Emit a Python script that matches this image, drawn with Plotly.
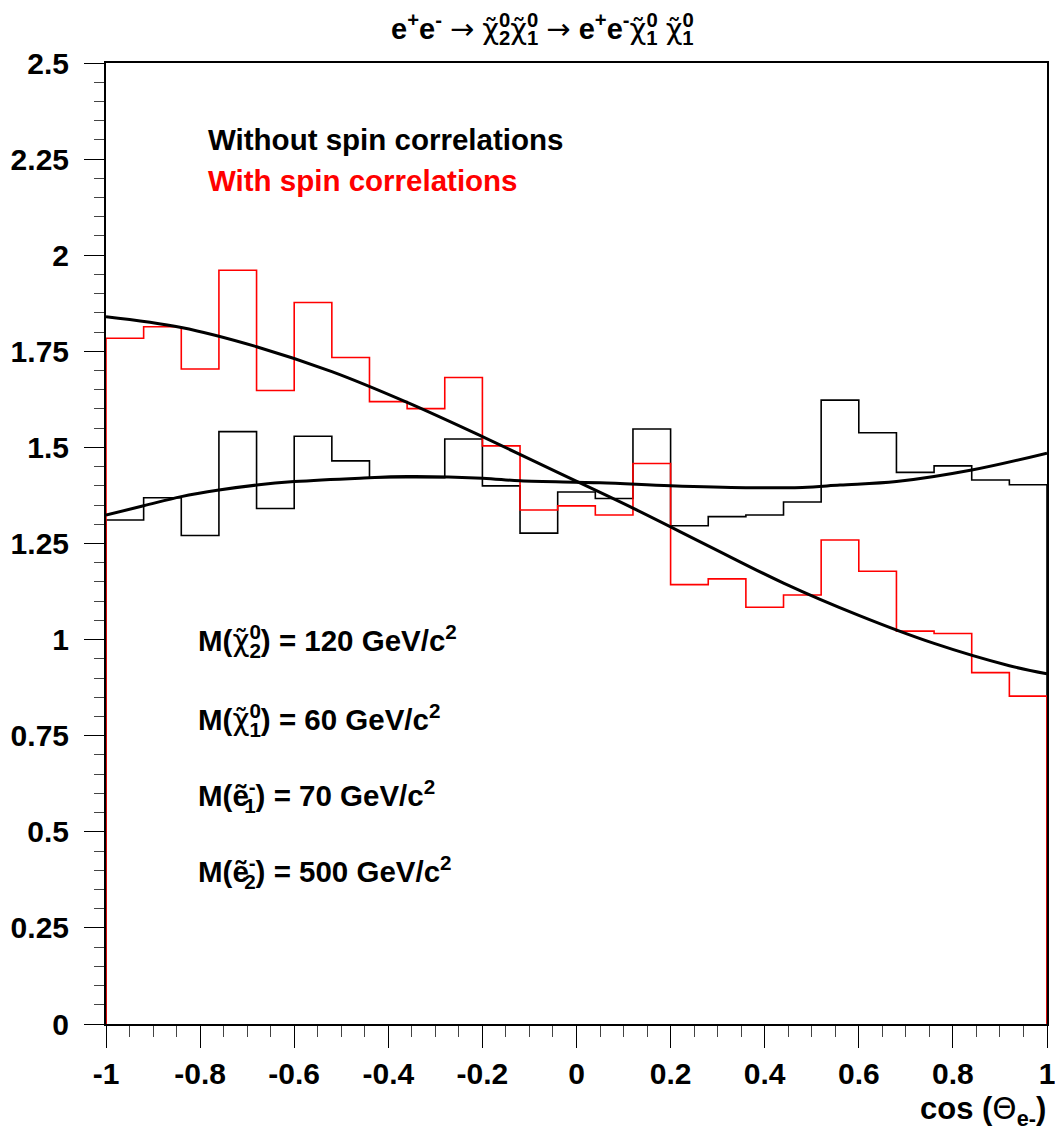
import numpy as np
import plotly.graph_objects as go

# ---- binning of cos(theta_e-) ----
N_BINS = 25
X_MIN, X_MAX = -1.0, 1.0

# ---- histogram contents (normalised) ----
without_spin = [1.311, 1.369, 1.271, 1.541, 1.341, 1.529, 1.465, 1.421, 1.421, 1.522,
                1.400, 1.277, 1.384, 1.367, 1.548, 1.296, 1.320, 1.324, 1.358, 1.623,
                1.538, 1.435, 1.452, 1.415, 1.403]
with_spin = [1.784, 1.814, 1.704, 1.961, 1.648, 1.877, 1.734, 1.619, 1.601, 1.682,
             1.504, 1.337, 1.348, 1.324, 1.458, 1.143, 1.158, 1.084, 1.116, 1.259,
             1.178, 1.022, 1.016, 0.914, 0.853]

# ---- fitted curves, sampled ----
fit_without_x = [-1.0, -0.92, -0.84, -0.76, -0.68, -0.6, -0.46, -0.36, -0.2, -0.12,
                 0.05, 0.2, 0.36, 0.48, 0.56, 0.68, 0.84, 1.0]
fit_without_y = [1.324, 1.348, 1.372, 1.389, 1.402, 1.411, 1.420, 1.424, 1.420, 1.413,
                 1.408, 1.400, 1.395, 1.396, 1.402, 1.411, 1.441, 1.485]
fit_with_x = [-1.0, -0.84, -0.68, -0.52, -0.36, -0.2, -0.04, 0.12, 0.28, 0.44,
              0.6, 0.76, 0.92, 1.0]
fit_with_y = [1.840, 1.812, 1.762, 1.697, 1.617, 1.528, 1.435, 1.342, 1.244, 1.147,
              1.063, 0.990, 0.932, 0.911]

# ---- axis ticks ----
x_tick_vals = [-1, -0.8, -0.6, -0.4, -0.2, 0, 0.2, 0.4, 0.6, 0.8, 1]
x_tick_text = ["-1", "-0.8", "-0.6", "-0.4", "-0.2", "0", "0.2", "0.4", "0.6", "0.8", "1"]
y_tick_vals = [0, 0.25, 0.5, 0.75, 1, 1.25, 1.5, 1.75, 2, 2.25, 2.5]
y_tick_text = ["0", "0.25", "0.5", "0.75", "1", "1.25", "1.5", "1.75", "2", "2.25", "2.5"]

edges = np.linspace(X_MIN, X_MAX, N_BINS + 1)


def outline(values):
    """Step outline of a histogram, closed down to zero at both ends."""
    xs = [edges[0]] + list(edges[:-1]) + [edges[-1], edges[-1]]
    ys = [0.0] + list(values) + [values[-1], 0.0]
    return xs, ys


W, H = 1055, 1133
ML, MR, MT, MB = 106, 8, 63, 109
PW, PH = W - ML - MR, H - MT - MB


def paper(px, py):
    return (px - ML) / PW, (H - MB - py) / PH


FONT = "Liberation Sans, Arial, sans-serif"
SYM = "font-family:DejaVu Sans;font-weight:normal"


def sym(ch):
    return f'<span style="{SYM}">{ch}</span>'


def stacked(base, sup, sub):
    """Symbol with super- and subscript placed one above the other."""
    return (base + f'<sup><span style="letter-spacing:-0.56em">{sup}</span></sup>'
            + f"<sub>{sub}</sub>")


CHI = sym("\u03c7\u0303")
ARROW = sym("\u2192")

fig = go.Figure()

xb, yb = outline(without_spin)
fig.add_trace(go.Scatter(x=xb, y=yb, mode="lines", line=dict(color="black", width=1.6, shape="hv"),
                         showlegend=False, hoverinfo="skip"))
xr, yr = outline(with_spin)
fig.add_trace(go.Scatter(x=xr, y=yr, mode="lines", line=dict(color="#ff0000", width=1.6, shape="hv"),
                         showlegend=False, hoverinfo="skip"))
fig.add_trace(go.Scatter(x=fit_without_x, y=fit_without_y, mode="lines",
                         line=dict(color="black", width=3, shape="spline", smoothing=1.0),
                         showlegend=False, hoverinfo="skip"))
fig.add_trace(go.Scatter(x=fit_with_x, y=fit_with_y, mode="lines",
                         line=dict(color="black", width=3, shape="spline", smoothing=1.0),
                         showlegend=False, hoverinfo="skip"))

annotations = []


def label(text, px, py, size, color="black", xanchor="left", yanchor="middle"):
    x, y = paper(px, py)
    annotations.append(dict(text=text, x=x, y=y, xref="paper", yref="paper",
                            xanchor=xanchor, yanchor=yanchor, showarrow=False,
                            font=dict(family=FONT, size=size, color=color, weight="bold")))


label("e<sup>+</sup>e<sup>-</sup> " + ARROW + " " + stacked(CHI, "0", "2") + stacked(CHI, "0", "1")
      + " " + ARROW + " e<sup>+</sup>e<sup>-</sup>" + stacked(CHI, "0", "1") + " "
      + stacked(CHI, "0", "1"),
      542, 29, 29, xanchor="center")
label("Without spin correlations", 206, 140, 29.5)
label("With spin correlations", 206, 181, 29.5, color="#ff0000")
label("M(" + stacked(CHI, "0", "2") + ") = 120 GeV/c<sup>2</sup>", 196, 641, 29.5)
label("M(" + stacked(CHI, "0", "1") + ") = 60 GeV/c<sup>2</sup>", 196, 720, 29.5)
label("M(" + stacked("\u1ebd", "-", "1") + ") = 70 GeV/c<sup>2</sup>", 196, 796, 29.5)
label("M(" + stacked("\u1ebd", "-", "2") + ") = 500 GeV/c<sup>2</sup>", 196, 872, 29.5)
label("cos (" + sym("\u0398") + "<sub>e-</sub>)", 1048, 1110, 31, xanchor="right")

axis_common = dict(showline=True, linecolor="black", linewidth=2, mirror=True,
                   ticks="outside", tickcolor="black", tickwidth=1,
                   tickfont=dict(family=FONT, size=30, color="black", weight="bold"),
                   showgrid=False, zeroline=False, layer="below traces",
                   tickmode="array", automargin=False, ticklabeloverflow="allow")

fig.update_layout(
    width=W, height=H,
    margin=dict(l=ML, r=MR, t=MT, b=MB, pad=0, autoexpand=False),
    paper_bgcolor="white", plot_bgcolor="white",
    xaxis=dict(range=[X_MIN, X_MAX], tickvals=x_tick_vals, ticktext=x_tick_text,
               ticklen=22, ticklabelstandoff=0,
               minor=dict(dtick=0.05, tick0=-1, ticks="outside", ticklen=11,
                          tickcolor="#444", tickwidth=1, showgrid=False),
               **axis_common),
    yaxis=dict(range=[0, 2.5], tickvals=y_tick_vals, ticktext=y_tick_text,
               ticklen=20, ticklabelstandoff=9,
               minor=dict(dtick=0.05, tick0=0, ticks="outside", ticklen=10,
                          tickcolor="#444", tickwidth=1, showgrid=False),
               **axis_common),
    annotations=annotations,
    showlegend=False,
)

fig.write_html("out.html")
